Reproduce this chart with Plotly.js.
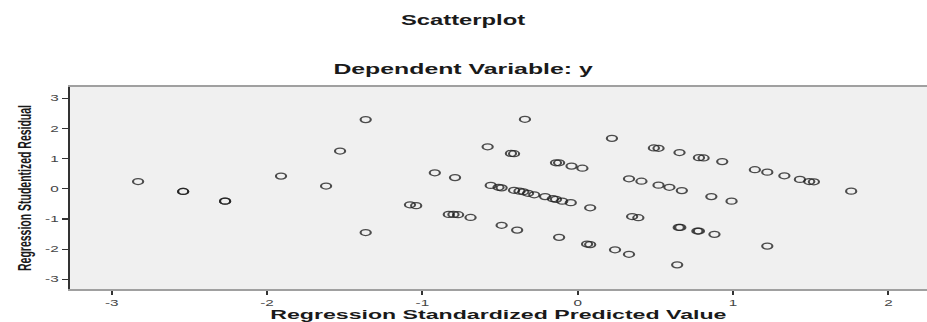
<!DOCTYPE html>
<html>
<head>
<meta charset="utf-8">
<script src="https://cdn.plot.ly/plotly-3.0.1.min.js"></script>
<style>
  html, body { margin: 0; padding: 0; background: #ffffff; overflow: hidden; }
  #wrap { width: 927px; height: 322px; overflow: hidden; }
  #chart { width: 545px; height: 322px; transform: scaleX(1.7009); transform-origin: 0 0; }
</style>
</head>
<body>
<div id="wrap"><div id="chart"></div></div>
<script>
// Regression Standardized Predicted Value
const predicted = [
  -2.83, -2.54, -2.54, -2.27, -2.27, -1.91, -1.62, -1.53, -1.365, -1.365,
  -1.08, -1.04, -0.92, -0.79, -0.83, -0.80, -0.77, -0.69, -0.58, -0.34,
  -0.43, -0.41, -0.56, -0.51, -0.49, -0.41, -0.375, -0.35, -0.32, -0.28,
  -0.21, -0.16, -0.14, -0.10, -0.045, 0.08, -0.49, -0.39, -0.12, 0.06,
  0.08, 0.24, -0.14, -0.12, -0.04, 0.03, 0.22, 0.49, 0.52, 0.655,
  0.78, 0.81, 0.93, 1.14, 1.22, 1.33, 1.43, 1.49, 1.52, 1.76,
  0.33, 0.41, 0.52, 0.59, 0.67, 0.86, 0.99, 0.35, 0.39, 0.65,
  0.66, 0.77, 0.78, 0.88, 1.22, 0.33, 0.64
];
// Regression Studentized Residual
const residual = [
  0.24, -0.09, -0.09, -0.41, -0.41, 0.42, 0.09, 1.25, 2.29, -1.45,
  -0.53, -0.56, 0.53, 0.37, -0.85, -0.85, -0.86, -0.95, 1.39, 2.30,
  1.17, 1.16, 0.11, 0.05, 0.03, -0.05, -0.08, -0.10, -0.15, -0.20,
  -0.26, -0.33, -0.35, -0.41, -0.46, -0.63, -1.21, -1.37, -1.61, -1.83,
  -1.85, -2.02, 0.86, 0.86, 0.75, 0.68, 1.67, 1.35, 1.34, 1.20,
  1.03, 1.02, 0.90, 0.63, 0.55, 0.43, 0.31, 0.24, 0.23, -0.08,
  0.33, 0.25, 0.12, 0.05, -0.06, -0.26, -0.41, -0.92, -0.96, -1.28,
  -1.28, -1.40, -1.40, -1.51, -1.90, -2.17, -2.52
];
const xTicks = [-3, -2, -1, 0, 1, 2];
const yTicks = [-3, -2, -1, 0, 1, 2, 3];

const FONT = '"Liberation Sans", Arial, Helvetica, sans-serif';

const trace = {
  type: 'scatter',
  mode: 'markers',
  x: predicted,
  y: residual,
  marker: {
    symbol: 'circle-open',
    size: 6,
    color: 'rgba(30,30,30,0.78)',
    line: { width: 1.25, color: 'rgba(30,30,30,0.78)' }
  },
  hoverinfo: 'x+y'
};

const layout = {
  width: 545,
  height: 322,
  margin: { l: 41, r: 0, t: 87, b: 33, pad: 0 },
  paper_bgcolor: '#ffffff',
  plot_bgcolor: '#f0f0f0',
  showlegend: false,
  title: {
    text: 'Scatterplot',
    font: { family: FONT, size: 14, weight: 700, color: '#1a1a1a' },
    x: 0.4995, xref: 'container', xanchor: 'center',
    y: 0.938, yref: 'container', yanchor: 'middle'
  },
  annotations: [{
    text: 'Dependent Variable: y',
    xref: 'paper', x: 0.4585, xanchor: 'center',
    yref: 'paper', y: 1.089, yanchor: 'middle',
    showarrow: false,
    font: { family: FONT, size: 14.6, weight: 700, color: '#1a1a1a' }
  }],
  xaxis: {
    range: [-3.27, 2.248],
    tickvals: xTicks,
    ticktext: xTicks.map(String),
    ticks: 'outside', ticklen: 4, tickwidth: 1.2, tickcolor: '#333',
    tickfont: { family: FONT, size: 9, color: '#444' },
    showgrid: false, zeroline: false,
    showline: true, linecolor: '#a0a0a0', linewidth: 2, mirror: true,
    automargin: false,
    title: {
      text: 'Regression Standardized Predicted Value',
      font: { family: FONT, size: 13.6, weight: 700, color: '#1a1a1a' },
      standoff: 5
    }
  },
  yaxis: {
    range: [-3.32, 3.37],
    tickvals: yTicks,
    ticktext: yTicks.map(String),
    ticks: 'outside', ticklen: 3.5, tickwidth: 1.2, tickcolor: '#333',
    tickfont: { family: FONT, size: 9, color: '#444' },
    showgrid: false, zeroline: false,
    showline: true, linecolor: '#333', linewidth: 1.2, mirror: false,
    automargin: false,
    title: {
      text: 'Regression Studentized Residual',
      font: { family: FONT, size: 10.5, weight: 700, color: '#1a1a1a' },
      standoff: 5
    }
  }
};

Plotly.newPlot('chart', [trace], layout, { staticPlot: true, displayModeBar: false });
</script>
</body>
</html>
